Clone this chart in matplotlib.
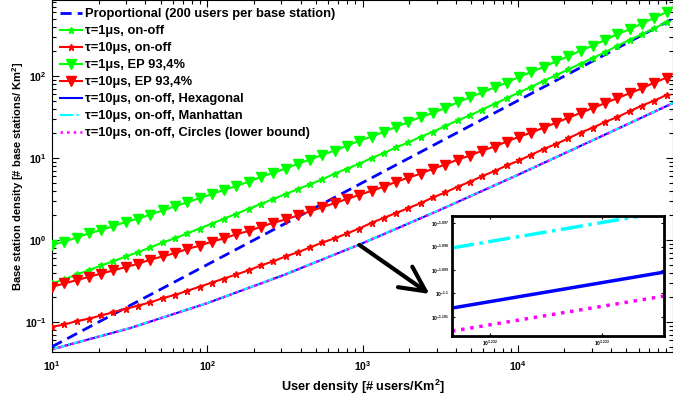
import numpy as np
import matplotlib
matplotlib.use('Agg')
import matplotlib.pyplot as plt
from matplotlib.ticker import FixedLocator, FuncFormatter, LogLocator, NullFormatter

plt.rcParams['font.family'] = ['Liberation Sans', 'DejaVu Sans']
plt.rcParams['mathtext.fontset'] = 'custom'
plt.rcParams['mathtext.rm'] = 'Liberation Sans:bold'
plt.rcParams['mathtext.bf'] = 'Liberation Sans:bold'
plt.rcParams['mathtext.it'] = 'Liberation Sans:bold:italic'

# ---------------- data ----------------
# user density grid of the marker series (ratio 1.2 between points)
user_density = 10 * 1.2 ** np.arange(51)

# log10 of base station density
log10_tau1_onoff = [-0.53, -0.48, -0.42, -0.37, -0.31, -0.26, -0.20, -0.15, -0.09, -0.03,
                    0.02, 0.08, 0.14, 0.20, 0.26, 0.32, 0.38, 0.44, 0.50, 0.56,
                    0.62, 0.68, 0.74, 0.81, 0.87, 0.93, 1.00, 1.06, 1.13, 1.19,
                    1.26, 1.32, 1.39, 1.46, 1.52, 1.59, 1.66, 1.73, 1.80, 1.87,
                    1.94, 2.01, 2.08, 2.15, 2.22, 2.29, 2.37, 2.44, 2.51, 2.58, 2.66]
log10_tau10_onoff = [-1.06, -1.03, -0.99, -0.96, -0.92, -0.88, -0.84, -0.80, -0.76, -0.71,
                     -0.67, -0.62, -0.57, -0.52, -0.47, -0.42, -0.37, -0.31, -0.26, -0.20,
                     -0.15, -0.09, -0.03, 0.02, 0.08, 0.14, 0.21, 0.27, 0.33, 0.39,
                     0.45, 0.52, 0.58, 0.65, 0.71, 0.78, 0.84, 0.91, 0.97, 1.04,
                     1.11, 1.17, 1.24, 1.31, 1.37, 1.44, 1.50, 1.57, 1.64, 1.70, 1.77]
log10_tau1_ep = [-0.06, -0.02, 0.03, 0.08, 0.12, 0.17, 0.22, 0.26, 0.31, 0.36,
                 0.41, 0.46, 0.51, 0.56, 0.61, 0.66, 0.71, 0.77, 0.82, 0.87,
                 0.93, 0.98, 1.04, 1.09, 1.15, 1.21, 1.26, 1.32, 1.38, 1.44,
                 1.50, 1.55, 1.61, 1.68, 1.74, 1.80, 1.86, 1.92, 1.99, 2.05,
                 2.11, 2.18, 2.24, 2.31, 2.37, 2.44, 2.51, 2.57, 2.64, 2.71, 2.78]
log10_tau10_ep = [-0.57, -0.53, -0.49, -0.45, -0.41, -0.37, -0.33, -0.29, -0.24, -0.20,
                  -0.16, -0.11, -0.07, -0.02, 0.02, 0.07, 0.11, 0.16, 0.21, 0.25,
                  0.30, 0.35, 0.40, 0.45, 0.50, 0.55, 0.60, 0.65, 0.71, 0.76,
                  0.81, 0.87, 0.92, 0.98, 1.03, 1.09, 1.14, 1.20, 1.26, 1.31,
                  1.37, 1.43, 1.49, 1.55, 1.61, 1.67, 1.73, 1.79, 1.85, 1.92, 1.98]

# line-only series
line_density = [10, 31.62, 100, 316.2, 1000, 3162, 10000, 31620, 100000]
log10_hexagonal = [-1.333, -1.076, -0.770, -0.422, -0.040, 0.368, 0.794, 1.231, 1.670]
log10_manhattan = [-1.331, -1.074, -0.768, -0.420, -0.038, 0.370, 0.796, 1.233, 1.672]
log10_circles = [-1.334, -1.077, -0.771, -0.423, -0.041, 0.367, 0.793, 1.230, 1.669]

# proportional (200 users per base station)
prop_density = [10, 100000]
prop_bs = [0.05, 500]

# inset (zoom, log10 units)
inset_logx = [3.23166, 3.23355]
inset_hexagonal = [-1.10062, -1.09909]
inset_manhattan = [-1.09806, -1.09653]
inset_circles = [-1.10160, -1.10011]
inset_xticks = [3.232, 3.233]
inset_yticks = [-1.101, -1.100, -1.099, -1.098, -1.097]

labels = ['Proportional (200 users per base station)',
          'τ=1μs, on-off',
          'τ=10μs, on-off',
          'τ=1μs, EP 93,4%',
          'τ=10μs, EP 93,4%',
          'τ=10μs, on-off, Hexagonal',
          'τ=10μs, on-off, Manhattan',
          'τ=10μs, on-off, Circles (lower bound)']

GREEN = '#00ff00'
RED = '#ff0000'
BLUE = '#0000ff'
CYAN = '#00ffff'
MAG = '#ff00ff'

# ---------------- figure ----------------
fig = plt.figure(figsize=(6.73, 3.98), dpi=100)
ax = fig.add_axes([52/673, 46/398, 621/673, 352/398])
ax.set_xscale('log')
ax.set_yscale('log')

h_prop, = ax.plot(prop_density, prop_bs, color=BLUE, lw=2, dashes=(4, 2.2), zorder=3)
h_g1, = ax.plot(user_density, 10**np.array(log10_tau1_onoff), '-*', color=GREEN, lw=1.5, ms=5, zorder=4)
h_r1, = ax.plot(user_density, 10**np.array(log10_tau10_onoff), '-*', color=RED, lw=1.5, ms=5, zorder=4)
h_g2, = ax.plot(user_density, 10**np.array(log10_tau1_ep), '-v', color=GREEN, lw=1.5, ms=7, zorder=4)
h_r2, = ax.plot(user_density, 10**np.array(log10_tau10_ep), '-v', color=RED, lw=1.5, ms=7, zorder=4)
h_hex, = ax.plot(line_density, 10**np.array(log10_hexagonal), '-', color=BLUE, lw=1.5, zorder=2)
h_man, = ax.plot(line_density, 10**np.array(log10_manhattan), '-.', color=CYAN, lw=1.5, zorder=2)
h_cir, = ax.plot(line_density, 10**np.array(log10_circles), ':', color=MAG, lw=1.8, zorder=2)

ax.set_xlim(10, 1e5)
ax.set_ylim(10**-1.366, 10**2.927)

def main_fmt(v, p):
    e = int(round(np.log10(v)))
    if e >= 5:
        return ''
    return r'$\mathbf{10^{%d}}$' % e

ax.xaxis.set_major_formatter(FuncFormatter(main_fmt))
ax.yaxis.set_major_formatter(FuncFormatter(main_fmt))
ax.xaxis.set_minor_formatter(NullFormatter())
ax.yaxis.set_minor_formatter(NullFormatter())
ax.tick_params(which='both', direction='in', top=True, right=True, labelsize=7.5, width=0.8)
ax.tick_params(which='major', length=5)
ax.tick_params(axis='y', which='major', pad=4)
ax.tick_params(axis='x', which='major', pad=5)
ax.tick_params(which='minor', length=3)
for s in ax.spines.values():
    s.set_linewidth(0.8)

ax.set_xlabel('User density [# users/Km$^2$]', fontsize=9.2, fontweight='bold', labelpad=4)
ax.set_ylabel('Base station density [# base stations/ Km$^2$]', fontsize=8, fontweight='bold', labelpad=-1)

leg = ax.legend([h_prop, h_g1, h_r1, h_g2, h_r2, h_hex, h_man, h_cir], labels,
                loc='upper left', frameon=False, prop={'weight': 'bold', 'size': 9.3},
                handlelength=1.7, handletextpad=0.2, labelspacing=0.38,
                borderaxespad=0.25, borderpad=0.4, numpoints=1)

ax.annotate('', xy=(2700, 0.22), xytext=(955, 0.87),
            arrowprops=dict(arrowstyle='->,head_length=1.8,head_width=0.9',
                            lw=3, color='black', shrinkA=0, shrinkB=0))

# ---------------- inset ----------------
axin = fig.add_axes([452/673, 62/398, 212/673, 120/398])
axin.plot(inset_logx, inset_hexagonal, '-', color=BLUE, lw=2.5)
axin.plot(inset_logx, inset_manhattan, '-.', color=CYAN, lw=2.5)
axin.plot(inset_logx, inset_circles, ':', color=MAG, lw=2.5)
axin.set_xlim(inset_logx[0], inset_logx[1])
axin.set_ylim(-1.10181, -1.0967)
axin.xaxis.set_major_locator(FixedLocator(inset_xticks))
axin.yaxis.set_major_locator(FixedLocator(inset_yticks))
axin.xaxis.set_major_formatter(FuncFormatter(lambda v, p: r'$10^{%g}$' % round(v, 3)))
axin.yaxis.set_major_formatter(FuncFormatter(lambda v, p: r'$10^{%g}$' % round(v, 3)))
axin.tick_params(direction='in', top=True, right=True, labelsize=3.5, length=2, pad=2)
for s in axin.spines.values():
    s.set_linewidth(2)

fig.savefig('out.png', dpi=100)
